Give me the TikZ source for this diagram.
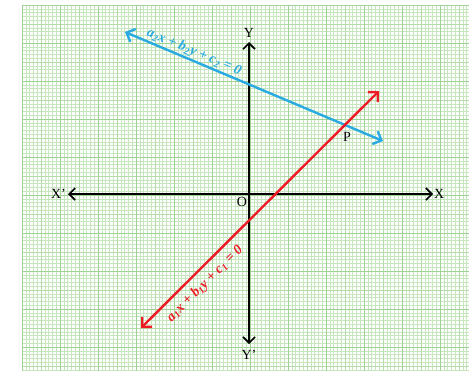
\documentclass[tikz,border=0pt]{standalone}
\usepackage{fontspec}
\setmainfont{Liberation Serif}
\usetikzlibrary{arrows.meta}
\definecolor{GridMinor}{RGB}{198,230,189}
\definecolor{GridMid}{RGB}{180,220,170}
\definecolor{GridMajor}{RGB}{160,210,150}
\definecolor{LineBlue}{RGB}{41,171,226}
\definecolor{LineRed}{RGB}{237,28,36}
\tikzset{
  minorgrid/.style={GridMinor, line width=0.5bp},
  midgrid/.style={GridMid, line width=0.7bp},
  majorgrid/.style={GridMajor, line width=0.9bp},
  axis/.style={<->, black, line width=1.6bp},
  graphline/.style={{Straight Barb[length=7bp, width=14bp]}-{Straight Barb[length=7bp, width=14bp]}, line width=2.4bp},
  lbl/.style={inner sep=0pt, font=\fontsize{14}{16}\selectfont},
  eqlbl/.style={inner sep=0pt, font=\fontsize{14}{16}\selectfont\bfseries\itshape}
}

\begin{document}
\begin{tikzpicture}[x=1bp, y=-1bp, >={Straight Barb[length=6bp, width=12bp]}]
  \useasboundingbox (0,0) rectangle (469,371);
  % Graph paper
  \foreach \i in {0,...,117}
    \draw[minorgrid] ({22+3.8*\i},5) -- ({22+3.8*\i},371);
  \foreach \j in {0,...,96}
    \draw[minorgrid] (22,{5+3.8*\j}) -- (469,{5+3.8*\j});
  \foreach \i in {0,...,11}
    \draw[midgrid] ({41+38*\i},5) -- ({41+38*\i},371);
  \foreach \j in {0,...,9}
    \draw[midgrid] (22,{24+38*\j}) -- (469,{24+38*\j});
  \foreach \i in {0,...,11}
    \draw[majorgrid] ({22+38*\i},5) -- ({22+38*\i},371);
  \foreach \j in {0,...,9}
    \draw[majorgrid] (22,{5+38*\j}) -- (469,{5+38*\j});

  % Axes
  \coordinate (xl) at (68,194);
  \coordinate (xr) at (433,194);
  \coordinate (yt) at (249,42);
  \coordinate (yb) at (249,344);
  \draw[axis] (xl) -- (xr);
  \draw[axis] (yb) -- (yt);
  \node[lbl, anchor=east] (xneg) at (66,194) {X'};
  \node[lbl, anchor=west] (xpos) at (434,194) {X};
  \node[lbl] (ypos) at (249,33) {Y};
  \node[lbl] (yneg) at (249,355) {Y'};
  \node[lbl] (origin) at (242,202) {O};

  % The two lines
  \coordinate (b1) at (125,32);
  \coordinate (b2) at (383,141);
  \coordinate (r1) at (141,328);
  \coordinate (r2) at (379,91);
  \draw[graphline, LineBlue] (b1) -- (b2);
  \draw[graphline, LineRed] (r1) -- (r2);
  \node[lbl] (meet) at (347,137) {P};

  % Equations
  \node[eqlbl, LineBlue, rotate=-22.9] (eqtwo) at (194,52)
    {a\textsubscript{2}x + b\textsubscript{2}y + c\textsubscript{2} = 0};
  \node[eqlbl, LineRed, rotate=44.9] (eqone) at (205,284)
    {a\textsubscript{1}x + b\textsubscript{1}y + c\textsubscript{1} = 0};
\end{tikzpicture}
\end{document}
